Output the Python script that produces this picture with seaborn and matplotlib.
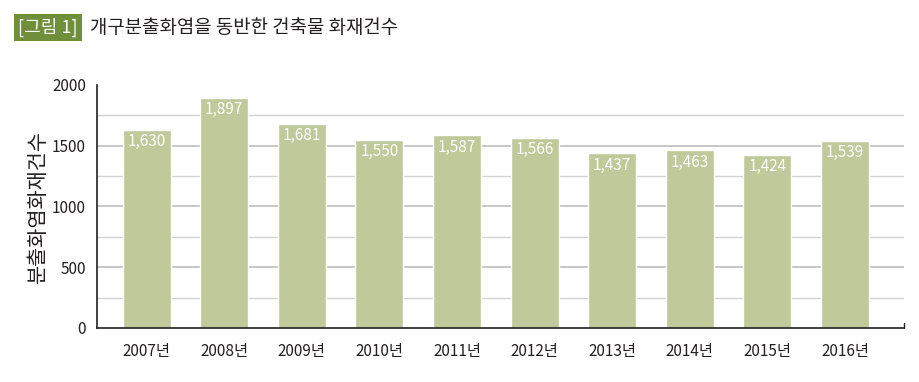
import numpy as np
import pandas as pd
import matplotlib.pyplot as plt
import seaborn as sns

years = ['2007년', '2008년', '2009년', '2010년', '2011년', '2012년', '2013년', '2014년', '2015년', '2016년']
fires = [1630, 1897, 1681, 1550, 1587, 1566, 1437, 1463, 1424, 1539]
yticks = [0, 500, 1000, 1500, 2000]

df = pd.DataFrame({'year': years, 'fires': fires})

sns.set_style('white')
plt.rcParams['font.family'] = ['Noto Sans CJK KR', 'DejaVu Sans']

fig = plt.figure(figsize=(9.2, 3.82), dpi=100)
ax = fig.add_axes([0.1054, 0.1414, 0.8772, 0.6361])

# gridlines every 250, drawn under the bars
for v in np.arange(250, 2000, 250):
    ax.axhline(v, color='#d2d2d2' if v % 500 else '#bdbdbd', lw=1.0 if v % 500 else 1.2, zorder=0)

sns.barplot(data=df, x='year', y='fires', color='#bfc99a', saturation=1, width=0.62, ax=ax, zorder=2)

for i, v in enumerate(fires):
    ax.text(i, v - 28, f'{v:,}', ha='center', va='top', color='white', fontsize=11, zorder=3)

ax.set_xlim(-0.64, 9.76)
ax.set_ylim(0, 2000)
ax.set_yticks(yticks)
ax.set_yticklabels([str(t) for t in yticks])
ax.tick_params(axis='both', length=0, labelsize=11, colors='#231f20')
ax.tick_params(axis='x', pad=11)
ax.tick_params(axis='y', pad=8)
ax.set_xlabel('')
ax.set_ylabel('분출화염화재건수', fontsize=15, color='#231f20', labelpad=2)

for s in ['top', 'right']:
    ax.spines[s].set_visible(False)
ax.spines['left'].set_color('#231f20')
ax.spines['left'].set_linewidth(1.2)
ax.spines['bottom'].set_color('#231f20')
ax.spines['bottom'].set_linewidth(1.2)
ax.plot([9.76, 9.76], [0, 40], color='#231f20', lw=1, clip_on=False)

# title
fig.text(0.02, 0.928, '[그림 1]', fontsize=13, color='white', va='center', ha='left',
         bbox=dict(boxstyle='square,pad=0.22', fc='#6f8f3a', ec='none'))
fig.text(0.098, 0.928, '개구분출화염을 동반한 건축물 화재건수', fontsize=13.6, color='#231f20', va='center', ha='left')

fig.savefig('out.png', dpi=100)
